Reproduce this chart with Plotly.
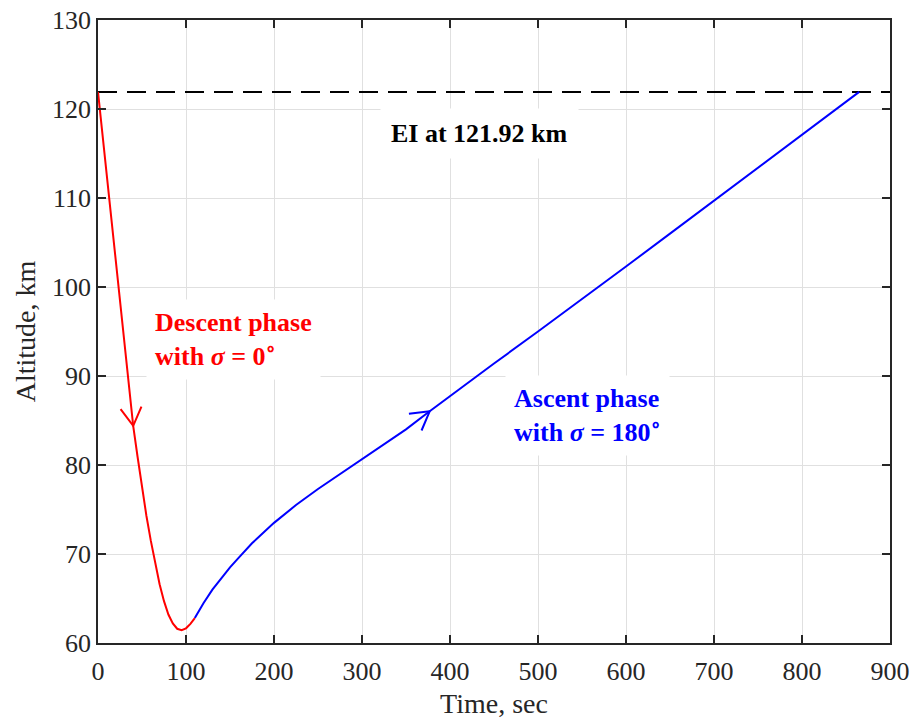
import numpy as np
import plotly.graph_objects as go

# Entry-interface altitude (km)
EI_ALT = 121.92

# Descent phase (bank angle 0 deg): time [s], altitude [km]
t_descent = [0, 10, 20, 30, 40, 45, 50, 55, 60, 65, 70, 75, 80, 85, 90, 95, 100, 105, 110]
h_descent = [121.92, 112.5, 103.2, 93.8, 84.4, 80.9, 77.5, 74.3, 71.5, 68.9, 66.6, 64.7,
             63.2, 62.2, 61.6, 61.45, 61.65, 62.15, 62.8]

# Ascent phase (bank angle 180 deg): time [s], altitude [km]
t_ascent = [110, 115, 120, 130, 140, 150, 160, 175, 200, 225, 250, 275, 300, 325, 350,
            375, 400, 450, 500, 550, 600, 650, 700, 750, 800, 850, 865]
h_ascent = [62.8, 63.7, 64.5, 66.0, 67.3, 68.5, 69.6, 71.2, 73.5, 75.5, 77.3, 78.95, 80.6,
            82.3, 84.0, 85.9, 87.75, 91.4, 95.0, 98.6, 102.3, 106.0, 109.7, 113.4, 117.2,
            120.8, 121.92]

# Axis ranges and ticks
x_range = [0, 900]
y_range = [60, 130]
x_ticks = [0, 100, 200, 300, 400, 500, 600, 700, 800, 900]
y_ticks = [60, 70, 80, 90, 100, 110, 120, 130]

# Figure geometry
W, H = 914, 722
M = dict(l=98, r=24, t=20, b=79)
plot_w = W - M["l"] - M["r"]
plot_h = H - M["t"] - M["b"]
sx = plot_w / (x_range[1] - x_range[0])   # px per second
sy = plot_h / (y_range[1] - y_range[0])   # px per km

RED = "#FF0000"
BLUE = "#0000FF"
FONT = "Liberation Serif"
AXIS_COLOR = "#262626"


def chevron(ts, hs, t_tip, length_px=21, half_angle_deg=30):
    """Open arrowhead on a curve at time t_tip, pointing along the curve."""
    ts = np.asarray(ts, float)
    hs = np.asarray(hs, float)
    h_tip = np.interp(t_tip, ts, hs)
    dt = 4.0
    dh = np.interp(t_tip + dt, ts, hs) - np.interp(t_tip - dt, ts, hs)
    d = np.array([2 * dt * sx, dh * sy])
    d /= np.linalg.norm(d)
    back = -d
    pts = []
    for sgn in (1, -1):
        a = np.radians(sgn * half_angle_deg)
        r = np.array([back[0] * np.cos(a) - back[1] * np.sin(a),
                      back[0] * np.sin(a) + back[1] * np.cos(a)])
        pts.append((t_tip + length_px * r[0] / sx, h_tip + length_px * r[1] / sy))
    xs = [pts[0][0], t_tip, pts[1][0]]
    ys = [pts[0][1], h_tip, pts[1][1]]
    return xs, ys


fig = go.Figure()

# EI reference line
fig.add_trace(go.Scatter(
    x=x_range, y=[EI_ALT, EI_ALT], mode="lines",
    line=dict(color="black", width=2, dash="19px,10px"),
    hoverinfo="skip", showlegend=False))

# Trajectory phases
fig.add_trace(go.Scatter(
    x=t_descent, y=h_descent, mode="lines",
    line=dict(color=RED, width=2),
    showlegend=False))
fig.add_trace(go.Scatter(
    x=t_ascent, y=h_ascent, mode="lines",
    line=dict(color=BLUE, width=2),
    showlegend=False))

# Direction arrowheads
ax_, ay_ = chevron(t_descent, h_descent, 40)
fig.add_trace(go.Scatter(x=ax_, y=ay_, mode="lines",
                         line=dict(color=RED, width=2), showlegend=False))
bx_, by_ = chevron(t_ascent, h_ascent, 377)
fig.add_trace(go.Scatter(x=bx_, y=by_, mode="lines",
                         line=dict(color=BLUE, width=2), showlegend=False))

# Text labels
fig.add_annotation(
    x=433, y=117.2, xref="x", yref="y", showarrow=False,
    text=f"<b>EI at {EI_ALT} km</b>",
    font=dict(family=FONT, size=26, color="black"),
    bgcolor="white", borderpad=10)
fig.add_annotation(
    x=55, y=94.1, xref="x", yref="y", showarrow=False,
    xanchor="left", yanchor="middle", align="left",
    text="<b>Descent phase<br>with <i>σ</i> = 0<sup>∘</sup></b>",
    font=dict(family=FONT, size=26, color=RED),
    bgcolor="white", borderpad=8)
fig.add_annotation(
    x=462, y=85.6, xref="x", yref="y", showarrow=False,
    xanchor="left", yanchor="middle", align="left",
    text="<b>Ascent phase<br>with <i>σ</i> = 180<sup>∘</sup></b>",
    font=dict(family=FONT, size=26, color=BLUE),
    bgcolor="white", borderpad=8)

axis_common = dict(
    showgrid=True, gridcolor="#E0E0E0", gridwidth=1,
    showline=True, linecolor=AXIS_COLOR, linewidth=1.5, mirror="ticks",
    ticks="inside", ticklen=8, tickwidth=1.5, tickcolor=AXIS_COLOR,
    tickfont=dict(family=FONT, size=26, color=AXIS_COLOR),
    zeroline=False, automargin=False,
)

fig.update_xaxes(range=x_range, tickvals=x_ticks, ticklabelstandoff=4,
                 title=dict(text="Time, sec", font=dict(family=FONT, size=28, color=AXIS_COLOR),
                            standoff=8),
                 **axis_common)
fig.update_yaxes(range=y_range, tickvals=y_ticks,
                 title=dict(text="Altitude, km", font=dict(family=FONT, size=28, color=AXIS_COLOR),
                            standoff=8),
                 **axis_common)

fig.update_layout(
    width=W, height=H, margin=M,
    paper_bgcolor="white", plot_bgcolor="white",
    showlegend=False,
)

fig.write_html("out.html")
